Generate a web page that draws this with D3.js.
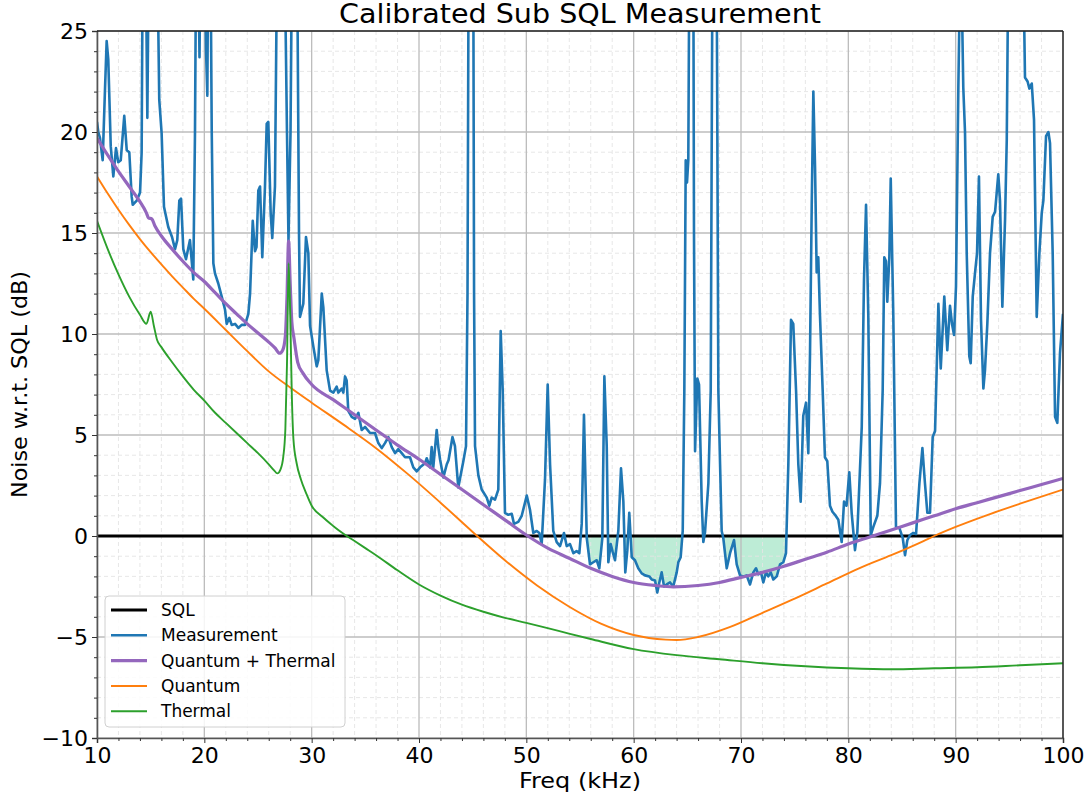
<!DOCTYPE html>
<html>
<head>
<meta charset="utf-8">
<script src="https://cdn.jsdelivr.net/npm/d3@7"></script>
<style>
  body { margin: 0; background: #fff; }
  text { font-family: "DejaVu Sans", sans-serif; }
</style>
</head>
<body>
<div id="chart"></div>
<script>
// measured noise relative to SQL (dB) vs frequency (kHz)
const measFreq = [
  10.00,10.12,10.28,10.53,10.75,10.90,11.05,11.28,11.52,11.77,11.98,12.21,12.54,12.77,13.01,13.23,13.33,13.70,14.01,14.16,
  14.29,14.52,14.69,14.84,15.03,15.50,15.64,15.80,16.02,16.24,16.64,16.99,17.27,17.48,17.67,17.83,18.04,18.29,18.66,18.97,
  19.13,19.27,19.41,19.55,19.69,19.97,20.16,20.28,20.39,20.56,20.69,20.84,20.99,21.30,21.62,21.93,22.08,22.33,22.55,22.86,
  23.17,23.48,23.79,24.10,24.26,24.51,24.72,24.86,25.03,25.19,25.40,25.65,25.81,25.96,26.18,26.33,26.58,26.80,27.33,27.70,
  27.84,28.03,28.26,28.63,28.82,28.91,29.22,29.47,29.69,29.85,30.15,30.47,30.62,30.94,31.09,31.40,31.71,32.02,32.33,32.48,
  32.80,32.95,33.11,33.26,33.41,33.73,34.04,34.35,34.66,34.97,35.44,35.90,36.21,36.53,36.83,37.14,37.46,37.77,38.07,38.39,
  38.70,39.16,39.47,39.79,40.10,40.56,40.72,41.03,41.18,41.33,41.65,41.80,41.96,42.27,42.59,42.75,43.12,43.35,43.66,44.13,
  44.38,44.52,44.66,45.03,45.13,45.22,45.53,45.84,46.31,46.55,46.77,47.08,47.39,47.61,47.80,48.01,48.32,48.64,48.85,49.25,
  49.57,50.04,50.34,50.65,50.97,51.21,51.43,51.74,51.99,52.21,52.51,52.83,53.14,53.51,53.76,54.07,54.38,54.68,54.94,55.16,
  55.37,55.63,55.93,56.24,56.56,56.80,57.08,57.27,57.49,57.64,57.86,58.05,58.26,58.57,58.82,59.04,59.22,59.41,59.59,59.82,
  60.12,60.43,60.75,61.06,61.46,61.68,61.99,62.20,62.39,62.61,62.83,63.08,63.39,63.69,64.01,64.16,64.38,64.57,64.72,64.85,
  64.97,65.09,65.25,65.53,65.62,65.72,65.93,66.09,66.34,66.49,66.65,66.96,67.18,67.35,67.72,67.89,68.05,68.20,68.35,68.67,
  68.98,69.35,69.60,69.91,70.22,70.53,70.84,71.15,71.40,71.61,71.86,72.08,72.33,72.54,72.77,73.01,73.33,73.64,73.94,74.19,
  74.41,74.66,74.87,75.13,75.34,75.56,75.80,76.06,76.27,76.43,76.59,76.74,76.90,77.05,77.20,77.36,77.61,77.82,78.04,78.29,
  78.52,78.76,79.07,79.38,79.60,79.83,80.09,80.31,80.62,80.84,81.25,81.46,81.65,81.86,82.09,82.33,82.70,82.95,83.20,83.35,
  83.51,83.63,83.82,83.95,84.19,84.44,84.75,85.07,85.28,85.50,85.75,86.06,86.31,86.62,86.90,87.14,87.36,87.61,87.86,88.08,
  88.39,88.61,88.94,89.22,89.47,89.66,89.85,90.03,90.25,90.47,90.71,90.87,91.03,91.27,91.40,91.59,91.80,91.99,92.17,92.36,
  92.58,92.73,92.95,93.20,93.45,93.67,93.97,94.13,94.35,94.60,94.76,94.93,95.28,96.00,96.31,96.46,96.70,96.87,97.09,97.30,
  97.55,97.80,98.02,98.17,98.42,98.64,98.79,99.04,99.26,99.47,99.72,100.00
];
const measNoise = [
  20.5,20.0,19.7,18.6,22.2,24.5,23.6,19.3,17.8,19.2,18.5,18.6,20.8,19.1,19.0,16.8,16.4,16.6,17.0,19.0,
  32,30,20.7,30,35,32,28,21.6,19.95,16.3,15.3,14.8,14.2,14.65,16.6,16.7,14.2,13.7,14.65,12.7,
  20,32,30,23.7,32,32,24,21.8,32,30,20,13.5,13.0,12.5,11.85,11.2,10.5,10.8,10.45,10.5,
  10.3,10.45,10.45,11.0,12.0,15.6,14.1,14.3,17.1,17.3,13.8,17.3,20.4,20.5,16.0,14.75,17.3,30,35,20,
  14.6,20,35,30,15,10.85,11.5,14.8,14.0,10.4,9.4,8.4,8.7,12.0,11.3,8.2,7.2,7.1,7.4,7.1,
  7.3,7.1,7.9,7.7,6.2,5.9,5.8,6.1,5.25,5.4,5.1,5.1,4.6,4.35,4.6,4.9,4.4,4.1,4.3,4.1,
  3.9,3.9,3.4,3.2,3.4,3.6,3.85,3.4,4.4,3.4,5.25,4.4,3.8,2.9,3.55,3.75,4.9,4.45,2.4,3.7,
  4.45,12,35,35,12,4.45,3.0,2.3,1.9,1.5,1.9,1.8,2.3,10.15,7.2,1.15,1.05,1.1,0.6,0.7,
  1.0,2.0,1.3,0.15,0.25,0.15,-0.4,2.8,7.5,3.55,0.25,-0.3,-0.5,0.15,-0.5,-0.4,-0.85,-0.75,-0.85,0.6,
  6.0,-0.1,-1.4,-1.3,-1.2,-1.6,-0.1,7.9,4.45,-1.3,-0.4,-0.8,-1.2,0.25,3.35,1.7,-1.8,-0.7,1.15,-1.05,
  -1.2,-1.6,-1.85,-1.95,-2.0,-2.15,-2.2,-2.8,-2.3,-1.8,-2.5,-2.4,-2.3,-2.5,-1.8,-1.3,-1.05,0.25,7.2,18.6,
  17.5,18.6,35,35,15,4.2,7.8,7.5,1.7,-0.3,0.2,2.6,7.2,30,30,7.2,3.55,0.25,-0.1,-1.6,
  -0.85,-0.2,-1.4,-1.95,-2.0,-1.95,-2.4,-1.8,-1.6,-1.9,-1.8,-2.3,-1.8,-2.0,-1.8,-2.15,-2.0,-1.4,-1.3,-0.85,
  3.55,10.7,10.5,7.2,3.55,1.7,5.95,6.6,4.1,9.05,16.4,22.0,18.2,13.05,13.8,10.9,7.2,3.9,3.7,1.5,
  1.2,1.05,0.8,-0.3,1.7,1.5,3.15,1.15,-0.7,0.2,5.4,12.7,16.4,10.9,0.05,0.45,1.0,2.6,7.2,13.8,
  13.6,11.6,13.8,17.7,10.9,0.45,0.4,-0.1,-0.95,-0.2,0.05,0.15,0.1,2.6,4.35,2.6,1.15,1.15,4.9,5.2,
  11.5,8.3,11.85,9.2,11.4,10.5,9.95,12.35,22.2,30,22.2,20,14.0,8.9,8.55,11.85,13.0,14.0,17.8,10.7,
  7.3,8.2,10.5,14.0,15.8,16.05,17.9,16.6,11.35,15.65,19.6,30,35,35,28,22.7,22.5,22.15,22.4,20.6,
  10.85,14.0,16.0,16.6,19.8,20.0,19.45,14.0,5.9,5.6,9.05,11.0
];

// quantum + thermal model
const totalFreq = [10,11,12,13,14,14.6,14.8,15.1,15.4,16,17,18,19,20,21,22,23,24,25,26,26.6,27.0,27.3,27.55,27.7,27.85,28.0,28.15,28.35,28.7,29.2,30,32,34,36,38,40,42,44,46,48,50,52,54,56,58,60,62,63.7,66,68,70,72,74,76,78,80,82,84,86,88,90,92,94,96,98,100];
const totalNoise = [19.7,18.85,18.05,17.3,16.55,16.0,15.75,15.7,15.35,14.85,14.2,13.6,13.05,12.6,12.05,11.5,11.0,10.5,10.05,9.6,9.3,9.05,9.2,9.9,11.8,14.6,12.5,10.6,9.8,8.6,8.05,7.5,6.75,6.0,5.25,4.5,3.8,3.05,2.3,1.55,0.8,0.05,-0.6,-1.1,-1.6,-2.0,-2.3,-2.45,-2.52,-2.45,-2.3,-2.05,-1.8,-1.5,-1.15,-0.8,-0.4,-0.05,0.3,0.65,1.0,1.35,1.65,1.95,2.25,2.55,2.85];

// quantum noise model
const quantumFreq = [10,11,12,13,14,15,16,17,18,19,20,22,24,26,28,30,33,36,39,42,45,48,51,54,57,60,63,64,66,69,72,75,78,81,84,87,88,90,93,96,100];
const quantumNoise = [17.8,16.95,16.15,15.4,14.7,14.05,13.45,12.85,12.3,11.75,11.25,10.2,9.15,8.15,7.35,6.6,5.5,4.35,3.05,1.65,0.2,-1.2,-2.45,-3.5,-4.35,-4.9,-5.13,-5.15,-5.0,-4.5,-3.8,-3.1,-2.35,-1.6,-0.95,-0.25,0,0.45,1.05,1.6,2.3];

// thermal noise model
const thermalFreq = [10,11,12,13,14,14.6,15.0,15.3,15.6,16,17,18,19,20,21,22,23,24,25,26,26.5,26.8,27.1,27.35,27.55,27.7,27.85,28.0,28.15,28.3,28.6,29.0,29.5,30,31,32,33,34,35,36,38,40,42,44,46,48,50,53,56,60,64,68,72,76,80,84,88,92,96,100];
const thermalNoise = [15.6,14.2,12.95,11.85,10.95,10.5,11.1,10.4,9.7,9.35,8.6,7.9,7.25,6.7,6.1,5.6,5.1,4.6,4.1,3.55,3.25,3.1,3.3,3.9,5.3,8.5,13.5,11.0,7.0,4.8,3.6,2.8,2.1,1.5,0.95,0.5,0.1,-0.25,-0.6,-0.95,-1.7,-2.4,-2.95,-3.4,-3.75,-4.05,-4.3,-4.7,-5.1,-5.6,-5.9,-6.1,-6.3,-6.45,-6.55,-6.6,-6.55,-6.5,-6.4,-6.3];

const sqlFreq = [10, 100];
const sqlNoise = [0, 0];

// frequency bands where the sub-SQL area is shaded
const fillRanges = [[54.9, 65.0], [68.0, 75.0]];

const xTicks = [10, 20, 30, 40, 50, 60, 70, 80, 90, 100];
const yTicks = [-10, -5, 0, 5, 10, 15, 20, 25];

const legendLabels = ["SQL", "Measurement", "Quantum + Thermal", "Quantum", "Thermal"];
const legendColors = ["#000000", "#1f77b4", "#9467bd", "#ff7f0e", "#2ca02c"];

// layout
const width = 1091, height = 797;
const plotLeft = 97, plotRight = 1063, plotTop = 31, plotBottom = 738;

const svg = d3.select("#chart").append("svg")
  .attr("width", width)
  .attr("height", height);

const x = d3.scaleLinear().domain([10, 100]).range([plotLeft, plotRight]);
const y = d3.scaleLinear().domain([-10, 25]).range([plotBottom, plotTop]);

svg.append("clipPath").attr("id", "plotClip")
  .append("rect")
  .attr("x", plotLeft).attr("y", plotTop)
  .attr("width", plotRight - plotLeft).attr("height", plotBottom - plotTop);

// shaded sub-SQL region (with zero crossings inserted)
const fillLayer = svg.append("g").attr("clip-path", "url(#plotClip)");
fillRanges.forEach(([a, b]) => {
  const pts = [];
  for (let i = 0; i < measFreq.length; i++) {
    const f = measFreq[i], v = measNoise[i];
    if (f < a || f > b) continue;
    if (i > 0 && measFreq[i - 1] >= a) {
      const pf = measFreq[i - 1], pv = measNoise[i - 1];
      if ((pv < 0) !== (v < 0)) {
        const t = pv / (pv - v);
        pts.push([pf + t * (f - pf), 0]);
      }
    }
    pts.push([f, Math.min(v, 0)]);
  }
  fillLayer.append("path")
    .datum(pts)
    .attr("fill", "#bdecd6")
    .attr("stroke", "none")
    .attr("d", d3.area()
      .x(d => x(d[0]))
      .y0(y(0))
      .y1(d => y(d[1])));
});

// minor grid
const xMinor = d3.range(10, 101, 2).filter(v => v % 10 !== 0);
const yMinor = d3.range(-10, 26, 1).filter(v => v % 5 !== 0);

svg.append("g").selectAll("line").data(xMinor).enter().append("line")
  .attr("x1", d => x(d)).attr("x2", d => x(d))
  .attr("y1", plotTop).attr("y2", plotBottom)
  .attr("stroke", "#e4e4e4").attr("stroke-width", 0.9)
  .attr("stroke-dasharray", "4,3");
svg.append("g").selectAll("line").data(yMinor).enter().append("line")
  .attr("x1", plotLeft).attr("x2", plotRight)
  .attr("y1", d => y(d)).attr("y2", d => y(d))
  .attr("stroke", "#e4e4e4").attr("stroke-width", 0.9)
  .attr("stroke-dasharray", "4,3");

// major grid
svg.append("g").selectAll("line").data(xTicks).enter().append("line")
  .attr("x1", d => x(d)).attr("x2", d => x(d))
  .attr("y1", plotTop).attr("y2", plotBottom)
  .attr("stroke", "#bcbcbc").attr("stroke-width", 1.3);
svg.append("g").selectAll("line").data(yTicks).enter().append("line")
  .attr("x1", plotLeft).attr("x2", plotRight)
  .attr("y1", d => y(d)).attr("y2", d => y(d))
  .attr("stroke", "#bcbcbc").attr("stroke-width", 1.3);

// lines
const plot = svg.append("g").attr("clip-path", "url(#plotClip)");
const line = d3.line().x(d => x(d[0])).y(d => y(d[1]));
const smooth = d3.line().x(d => x(d[0])).y(d => y(d[1])).curve(d3.curveMonotoneX);
const zip = (a, b) => a.map((v, i) => [v, b[i]]);

plot.append("path").datum(zip(sqlFreq, sqlNoise))
  .attr("fill", "none").attr("stroke", "#000").attr("stroke-width", 3)
  .attr("d", line);

plot.append("path").datum(zip(measFreq, measNoise))
  .attr("fill", "none").attr("stroke", "#1f77b4").attr("stroke-width", 2.6)
  .attr("stroke-linejoin", "round")
  .attr("d", line);

plot.append("path").datum(zip(totalFreq, totalNoise))
  .attr("fill", "none").attr("stroke", "#9467bd").attr("stroke-width", 3.2)
  .attr("d", smooth);

plot.append("path").datum(zip(quantumFreq, quantumNoise))
  .attr("fill", "none").attr("stroke", "#ff7f0e").attr("stroke-width", 1.9)
  .attr("d", smooth);

plot.append("path").datum(zip(thermalFreq, thermalNoise))
  .attr("fill", "none").attr("stroke", "#2ca02c").attr("stroke-width", 1.9)
  .attr("d", smooth);

// axes
const fmt = d => d < 0 ? "\u2212" + Math.abs(d) : String(d);

const xAxis = svg.append("g")
  .attr("transform", "translate(0," + plotBottom + ")")
  .call(d3.axisBottom(x).tickValues(xTicks).tickFormat(fmt).tickSize(5).tickPadding(4));
svg.append("g")
  .attr("transform", "translate(0," + plotBottom + ")")
  .call(d3.axisBottom(x).tickValues(xMinor).tickFormat("").tickSize(3))
  .select(".domain").remove();

const yAxis = svg.append("g")
  .attr("transform", "translate(" + plotLeft + ",0)")
  .call(d3.axisLeft(y).tickValues(yTicks).tickFormat(fmt).tickSize(5).tickPadding(4));
svg.append("g")
  .attr("transform", "translate(" + plotLeft + ",0)")
  .call(d3.axisLeft(y).tickValues(yMinor).tickFormat("").tickSize(3))
  .select(".domain").remove();

svg.selectAll(".tick text")
  .attr("font-family", "DejaVu Sans")
  .attr("font-size", 22)
  .attr("fill", "#000");
svg.selectAll(".tick line").attr("stroke", "#333");
xAxis.select(".domain").attr("stroke", "#555").attr("stroke-width", 1.6);
yAxis.select(".domain").attr("stroke", "#555").attr("stroke-width", 1.6);

// top and right spines
svg.append("line").attr("x1", plotLeft).attr("x2", plotRight).attr("y1", plotTop).attr("y2", plotTop)
  .attr("stroke", "#222").attr("stroke-width", 1.4);
svg.append("line").attr("x1", plotRight).attr("x2", plotRight).attr("y1", plotTop).attr("y2", plotBottom)
  .attr("stroke", "#222").attr("stroke-width", 1.4);

// title and labels
svg.append("text")
  .attr("x", (plotLeft + plotRight) / 2).attr("y", 23)
  .attr("text-anchor", "middle")
  .attr("font-size", 26)
  .attr("textLength", 482).attr("lengthAdjust", "spacingAndGlyphs")
  .text("Calibrated Sub SQL Measurement");

svg.append("text")
  .attr("x", (plotLeft + plotRight) / 2).attr("y", 788)
  .attr("text-anchor", "middle")
  .attr("font-size", 22)
  .attr("textLength", 122).attr("lengthAdjust", "spacingAndGlyphs")
  .text("Freq (kHz)");

svg.append("text")
  .attr("transform", "translate(27," + ((plotTop + plotBottom) / 2) + ") rotate(-90)")
  .attr("text-anchor", "middle")
  .attr("font-size", 22)
  .attr("textLength", 227).attr("lengthAdjust", "spacingAndGlyphs")
  .text("Noise w.r.t. SQL (dB)");

// legend
const legend = svg.append("g");
legend.append("rect")
  .attr("x", 105).attr("y", 596)
  .attr("width", 240).attr("height", 131)
  .attr("rx", 4)
  .attr("fill", "#fff").attr("fill-opacity", 0.85)
  .attr("stroke", "#d0d0d0").attr("stroke-width", 1);

const legendWidths = [3, 2.6, 3.2, 2, 2];
legendLabels.forEach((name, i) => {
  const ly = 610 + i * 25.3;
  legend.append("line")
    .attr("x1", 111).attr("x2", 147)
    .attr("y1", ly).attr("y2", ly)
    .attr("stroke", legendColors[i])
    .attr("stroke-width", legendWidths[i]);
  legend.append("text")
    .attr("x", 161).attr("y", ly + 6)
    .attr("font-size", 17)
    .text(name);
});
</script>
</body>
</html>
